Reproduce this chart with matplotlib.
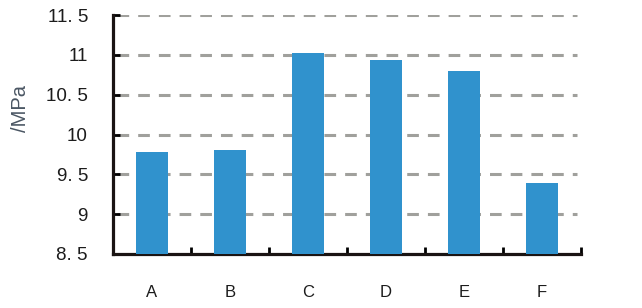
import numpy as np
import matplotlib.pyplot as plt

plt.rcParams['font.family'] = ['Liberation Sans', 'DejaVu Sans']
plt.rcParams['lines.scale_dashes'] = False

categories = ['A', 'B', 'C', 'D', 'E', 'F']
values = [9.78, 9.80, 11.02, 10.94, 10.80, 9.39]
yticks = [8.5, 9, 9.5, 10, 10.5, 11, 11.5]
ytick_labels = ['8. 5', '9', '9. 5', '10', '10. 5', '11', '11. 5']

fig = plt.figure(figsize=(6.42, 3.08), dpi=100)
ax = fig.add_axes([113 / 642, 1 - 254 / 308, 468 / 642, 239 / 308])

x = np.arange(len(categories))
ax.bar(x, values, width=0.41, color='#3092cd', zorder=3)

ax.set_xlim(-0.5, 5.5)
ax.set_ylim(8.5, 11.5)

# dashed grey grid at every y tick
for y in yticks[1:]:
    ax.plot([-0.45, 5.45], [y, y], color='#a0a09c', lw=2.2,
            dashes=(8.4, 6.5), zorder=1, solid_capstyle='butt')

ax.set_yticks(yticks)
ax.set_yticklabels(ytick_labels, fontsize=13.5, color='#1c1c1c')
ax.tick_params(axis='y', direction='in', length=5, width=2, pad=18)

# ticks between categories, labels under the bars
ax.set_xticks(np.arange(0.5, 6, 1))
ax.set_xticklabels([])
ax.tick_params(axis='x', which='major', direction='in', length=5, width=2)
ax.set_xticks(x, minor=True)
ax.set_xticklabels(categories, minor=True, fontsize=12, color='#1c1c1c')
ax.tick_params(axis='x', which='minor', length=0, pad=22)

for s in ['top', 'right']:
    ax.spines[s].set_visible(False)
for s in ['left', 'bottom']:
    ax.spines[s].set_linewidth(2.3)
    ax.spines[s].set_color('#1a1413')

fig.text(21 / 642, 1 - 108 / 308, '/MPa', rotation=90, ha='center', va='center',
         fontsize=14.5, color='#4a5663')

fig.savefig('out.png', dpi=100)
